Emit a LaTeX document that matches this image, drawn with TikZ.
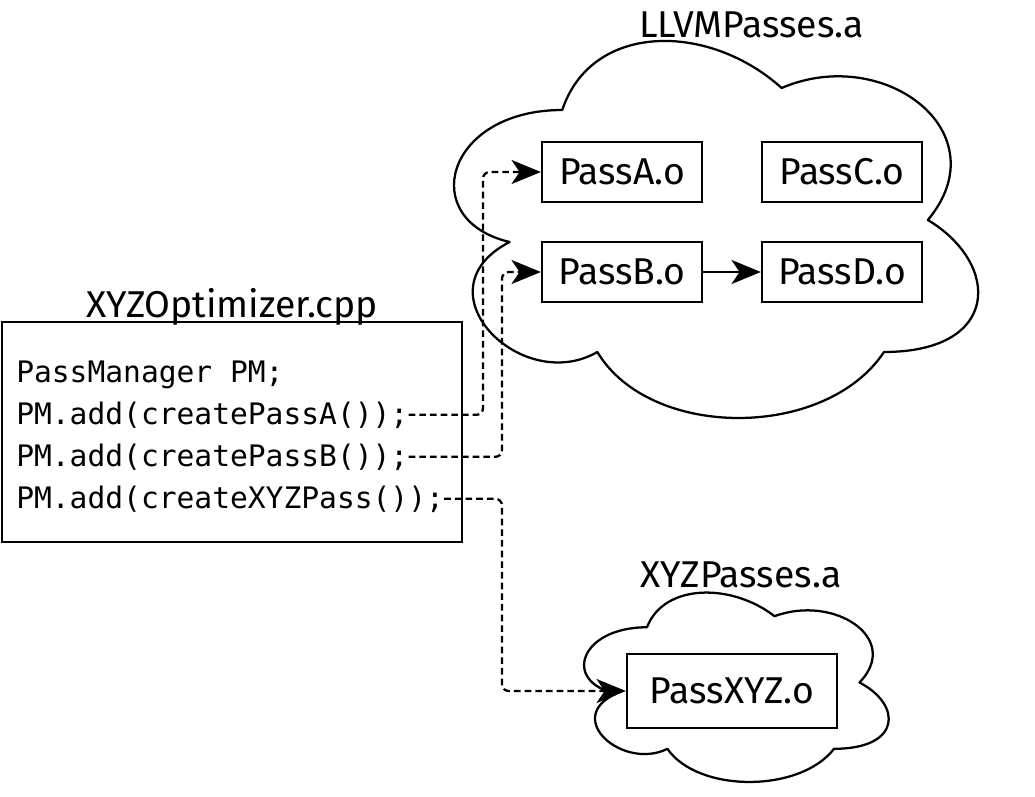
\documentclass[tikz,border=0pt]{standalone}
\usepackage{fontspec}
\setmainfont{Fira Sans}
\newfontfamily\codefont{DejaVu Sans Mono}
\usetikzlibrary{arrows.meta}
\tikzset{arrowhd/.tip={Stealth[length=22pt,width=18pt,inset=6pt]}}
\begin{document}
\begin{tikzpicture}[x=0.75pt,y=-0.75pt,
  lbl/.style={font=\fontsize{28}{33}\selectfont, inner sep=0pt, anchor=base},
  passbox/.style={draw, line width=1.7pt, fill=white, minimum width=120pt, minimum height=45pt, inner sep=0pt, font=\fontsize{28}{33}\selectfont},
  codebox/.style={draw, line width=1.7pt, fill=white, minimum width=345pt, minimum height=165pt, inner sep=0pt},
  code/.style={font=\codefont\fontsize{22.2}{26}\selectfont, anchor=base west, inner sep=0pt},
  cloudline/.style={draw, line width=1.7pt, fill=white, line join=round},
  dep/.style={draw, line width=1.7pt, dash pattern=on 5pt off 3pt, rounded corners=5pt, arrows={-arrowhd}},
  solidarrow/.style={draw, line width=1.7pt, arrows={-arrowhd}}
]
\useasboundingbox (0,0) rectangle (1035,796);

% LLVMPasses cloud
\begin{scope}[shift={(416,0)}, xscale=585, yscale=440]
\draw[cloudline] (0.25,0.25) .. controls (0.05,0.25) and (0,0.5) .. (0.16,0.55)
 .. controls (0,0.66) and (0.18,0.9) .. (0.31,0.8)
 .. controls (0.4,1) and (0.7,1) .. (0.8,0.8)
 .. controls (1,0.8) and (1,0.6) .. (0.875,0.5)
 .. controls (1,0.3) and (0.8,0.1) .. (0.625,0.2)
 .. controls (0.5,0.05) and (0.3,0.05) .. (0.25,0.25) -- cycle;
\end{scope}
\node[lbl] (llvmlbl) at (751.5,37) {LLVMPasses.a};

% XYZPasses cloud
\begin{scope}[shift={(562,572)}, xscale=340, yscale=221]
\draw[cloudline] (0.25,0.25) .. controls (0.05,0.25) and (0,0.5) .. (0.16,0.55)
 .. controls (0,0.66) and (0.18,0.9) .. (0.31,0.8)
 .. controls (0.4,1) and (0.7,1) .. (0.8,0.8)
 .. controls (1,0.8) and (1,0.6) .. (0.875,0.5)
 .. controls (1,0.3) and (0.8,0.1) .. (0.625,0.2)
 .. controls (0.5,0.05) and (0.3,0.05) .. (0.25,0.25) -- cycle;
\end{scope}
\node[lbl] (xyzlbl) at (741,587) {XYZPasses.a};

% pass boxes
\node[passbox] (pa) at (622,172) {PassA.o};
\node[passbox] (pc) at (842,172) {PassC.o};
\node[passbox] (pb) at (622,272) {PassB.o};
\node[passbox] (pd) at (842,272) {PassD.o};
\node[passbox, minimum width=157.5pt, minimum height=55.5pt] (px) at (732,691) {PassXYZ.o};

% code box
\node[codebox] (cb) at (232,432) {};
\node[lbl] (cbl) at (232,317) {XYZOptimizer.cpp};
\node[code] (l1) at (16,382) {PassManager PM;};
\node[code] (l2) at (16,424) {PM.add(createPassA());};
\node[code] (l3) at (16,466) {PM.add(createPassB());};
\node[code] (l4) at (16,508) {PM.add(createXYZPass());};

% connectors
\coordinate (ca) at (483,0);
\coordinate (cbx) at (502,0);
\draw[dep] (l2.east) -| (ca |- pa.west) -- (pa.west);
\draw[dep] (l3.east) -| (cbx |- pb.west) -- (pb.west);
\draw[dep] (l4.east) -| (cbx |- px.west) -- (px.west);
\draw[solidarrow] (pb.east) -- (pd.west);
\end{tikzpicture}
\end{document}
